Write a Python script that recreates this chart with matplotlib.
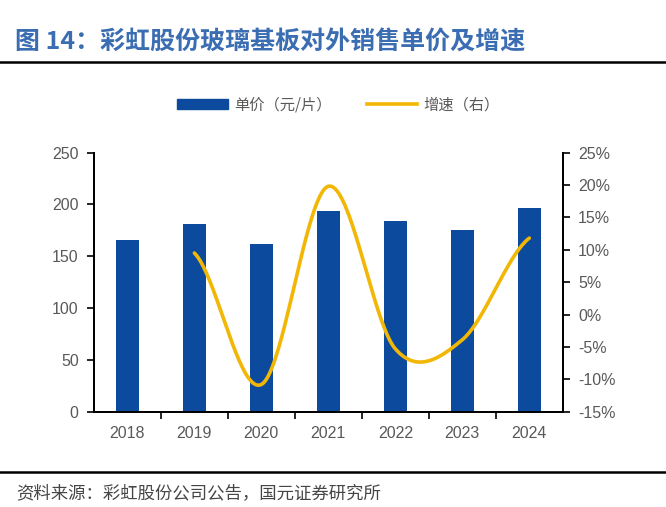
import matplotlib
matplotlib.use('Agg')
import matplotlib.pyplot as plt
from matplotlib.patches import Patch
from matplotlib.lines import Line2D
import numpy as np

years = ['2018', '2019', '2020', '2021', '2022', '2023', '2024']
price = [165.7, 181.5, 161.9, 194.0, 183.8, 175.4, 196.3]   # 元/片
growth = [9.5, -10.8, 19.8, -5.3, -3.9, 11.8]                # %, 2019-2024

BLUE = '#0C4A9E'
GOLD = '#F2B705'
GREY = '#595959'
CJK = ['Noto Sans CJK SC', 'DejaVu Sans']
NUM = ['Liberation Sans', 'DejaVu Sans']


def smooth(xs, ys, n=40):
    # catmull-rom through the points, like a smoothed office line
    ys = np.asarray(ys, float)
    p = np.r_[ys[0], ys, ys[-1]]
    xo, yo = [], []
    for i in range(len(ys) - 1):
        m0 = (p[i + 2] - p[i]) / 2
        m1 = (p[i + 3] - p[i + 1]) / 2
        t = np.linspace(0, 1, n)
        h00 = 2*t**3 - 3*t**2 + 1
        h10 = t**3 - 2*t**2 + t
        h01 = -2*t**3 + 3*t**2
        h11 = t**3 - t**2
        yo.append(h00*ys[i] + h10*m0 + h01*ys[i+1] + h11*m1)
        xo.append(xs[i] + t*(xs[i+1] - xs[i]))
    return np.concatenate(xo), np.concatenate(yo)


fig = plt.figure(figsize=(6.66, 5.07), dpi=100)
ax = fig.add_axes([0.141, 0.188, 0.704, 0.511])
ax2 = ax.twinx()

x = np.arange(len(years))
ax.bar(x, price, width=0.34, color=BLUE, zorder=2)
sx, sy = smooth(x[1:], growth)
ax2.plot(sx, sy, color=GOLD, lw=2.6, solid_capstyle='round', zorder=3)

ax.set_xlim(-0.5, len(years) - 0.5)
ax.set_ylim(0, 250)
ax.set_yticks(range(0, 251, 50))
ax2.set_ylim(-15, 25)
ax2.set_yticks(range(-15, 26, 5))
ax2.set_yticklabels([f'{v}%' for v in range(-15, 26, 5)])

ax.set_xticks(x)
ax.set_xticklabels(years)
ax.set_xticks(np.arange(0.5, len(years) - 1, 1), minor=True)
ax.tick_params(axis='x', which='major', length=0, pad=10)
ax.tick_params(axis='x', which='minor', length=5, width=1.2, direction='out')
ax.tick_params(axis='y', length=5, width=1.2, direction='out', pad=6)
ax2.tick_params(axis='y', length=5, width=1.2, direction='out', pad=6)

for a in (ax, ax2):
    a.spines['top'].set_visible(False)
    for s in ('left', 'right', 'bottom'):
        a.spines[s].set_linewidth(1.4)
        a.spines[s].set_color('black')
    for lab in a.get_xticklabels() + a.get_yticklabels():
        lab.set_fontfamily(NUM)
        lab.set_fontsize(11.5)
        lab.set_color(GREY)

handles = [Patch(color=BLUE), Line2D([], [], color=GOLD, lw=2.6)]
fig.legend(handles, ['单价（元/片）', '增速（右）'], loc='center',
           bbox_to_anchor=(0.508, 0.793), ncol=2, frameon=False,
           prop={'family': CJK, 'size': 11}, handlelength=3.3,
           handleheight=0.6, handletextpad=0.4, columnspacing=2.3,
           labelcolor=GREY)

fig.text(0.023, 0.918, '图 14：彩虹股份玻璃基板对外销售单价及增速',
         family=CJK, fontsize=18, fontweight='bold', color='#3A6DB2',
         va='center', ha='left')
fig.add_artist(Line2D([0, 1], [0.878, 0.878], color='black', lw=1.8,
                      transform=fig.transFigure))
fig.add_artist(Line2D([0, 1], [0.069, 0.069], color='black', lw=1.8,
                      transform=fig.transFigure))
fig.text(0.024, 0.028, '资料来源：彩虹股份公司公告，国元证券研究所',
         family=CJK, fontsize=12.5, color='#454545', va='center', ha='left')

fig.savefig('out.png', dpi=100)
